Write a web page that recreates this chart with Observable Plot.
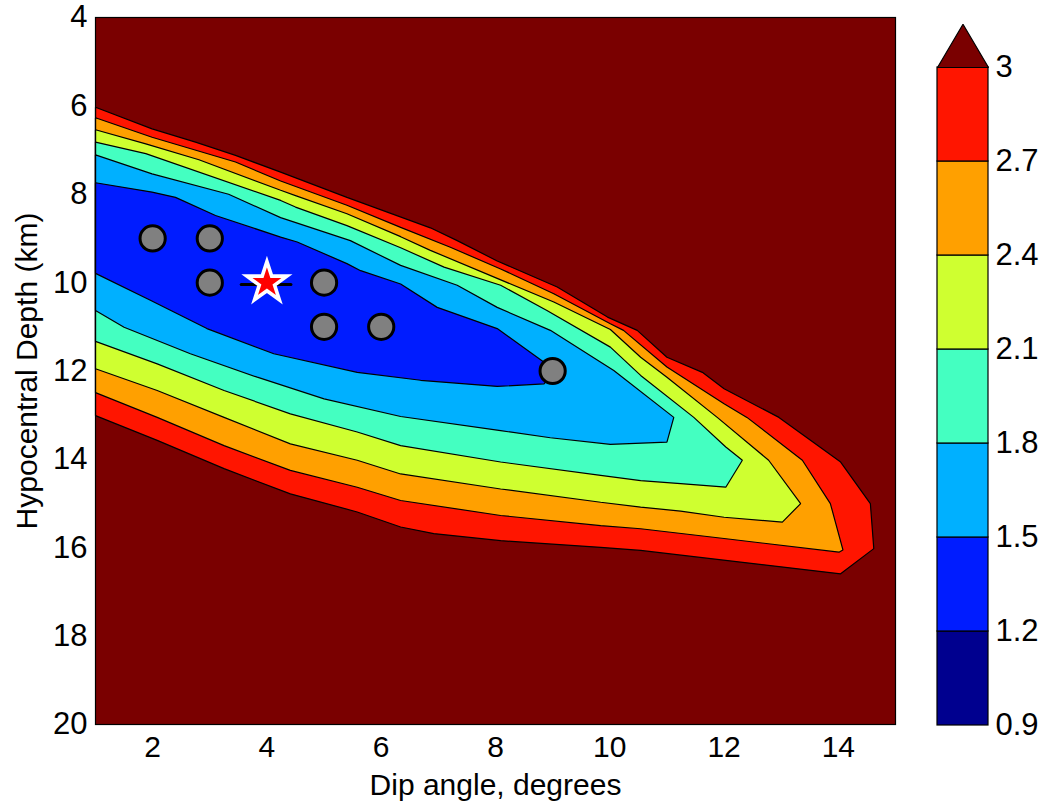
<!DOCTYPE html>
<html>
<head>
<meta charset="utf-8">
<script src="https://cdn.jsdelivr.net/npm/d3@7"></script>
<script src="https://cdn.jsdelivr.net/npm/@observablehq/plot@0.6"></script>
<style>
  html, body { margin: 0; padding: 0; background: #fff; }
  #wrap { position: relative; width: 1044px; height: 805px; background: #fff; }
  #main { position: absolute; left: 0; top: 0; }
  #bar { position: absolute; left: 910px; top: 0; }
</style>
</head>
<body>
<div id="wrap"><div id="main"></div><div id="bar"></div></div>
<script>
// ---- axis ticks ----
const dipTicks = [2, 4, 6, 8, 10, 12, 14];
const depthTicks = [4, 6, 8, 10, 12, 14, 16, 18, 20];
const levels = [0.9, 1.2, 1.5, 1.8, 2.1, 2.4, 2.7, 3.0];
const bandColors = ["#00008f", "#001cff", "#00b0ff", "#44ffc1", "#cfff30", "#ffa000", "#ff1500"];
const overflowColor = "#7a0000";

// ---- contour regions [dip, depth] (value below the level) ----
const below30 = [[1,6.03],[1.99,6.52],[2.75,6.82],[3.45,7.12],[4.24,7.50],[5.40,8.07],[6.86,8.76],[7.33,9.05],[8.03,9.51],[9.08,10.10],[9.96,10.78],[10.48,11.08],[11.0,11.69],[11.62,12.03],[12.0,12.40],[12.96,13.05],[14.04,14.06],[14.56,15.00],[14.62,16.02],
  [14.04,16.59],[10.54,16.06],[9.84,15.99],[8.09,15.84],[6.92,15.68],[6.34,15.53],[5.58,15.19],[4.41,14.78],[3.25,14.21],[2.08,13.57],[1,13.01]];
const below27 = [[1,6.27],[1.99,6.71],[3.45,7.27],[4.24,7.70],[5.40,8.25],[6.34,8.75],[7.21,9.20],[8.09,9.69],[9.02,10.25],[10.01,10.93],[10.24,11.08],[11.0,11.91],[12.0,12.74],[12.40,13.05],[13.37,14.02],[13.86,15.00],[14.08,16.05],
  [14.01,16.10],[12.0,15.79],[10.54,15.57],[9.84,15.50],[8.09,15.27],[6.34,14.93],[5.58,14.63],[4.41,14.25],[3.25,13.69],[2.08,13.05],[1,12.49]];
const below24 = [[1,6.54],[1.88,6.86],[2.81,7.22],[4.24,7.91],[4.50,8.03],[5.40,8.44],[6.34,8.96],[6.86,9.27],[9.02,10.44],[10.01,11.06],[10.54,11.69],[11.0,12.14],[11.88,13.05],[12.78,14.02],[13.34,15.00],
  [13.02,15.42],[12.0,15.31],[11.24,15.17],[10.54,15.08],[9.84,14.97],[8.09,14.67],[6.34,14.33],[5.58,14.02],[4.41,13.65],[3.25,13.05],[2.08,12.44],[1,11.95]];
const below21 = [[1,6.82],[1.88,7.08],[4.24,8.14],[4.50,8.29],[5.40,8.71],[6.34,9.21],[7.10,9.65],[8.09,10.06],[8.90,10.63],[10.01,11.46],[10.54,12.10],[11.47,13.05],[12.03,13.72],[12.32,14.02],
  [12.03,14.63],[11.24,14.55],[10.54,14.48],[9.84,14.36],[8.09,14.06],[6.34,13.69],[5.58,13.38],[4.41,12.97],[3.25,12.44],[2.08,11.84],[1,11.33]];
const below18 = [[1,7.11],[1.99,7.54],[3.33,8.0],[4.24,8.53],[5.46,9.05],[6.34,9.61],[7.33,10.06],[8.03,10.56],[8.96,11.08],[10.07,11.99],[11.12,13.05],
  [11.0,13.61],[10.01,13.66],[8.96,13.51],[8.09,13.35],[6.34,13.03],[5.0,12.63],[3.83,12.14],[2.66,11.61],[1.5,11.01],[1,10.63]];
const below15 = [[1,7.74],[1.99,7.95],[2.40,8.07],[3.10,8.48],[4.24,8.97],[4.53,9.08],[5.40,9.57],[5.64,9.73],[6.34,10.03],[6.98,10.56],[8.03,11.04],[8.85,11.80],[9.0,12.05],
  [8.85,12.29],[8.03,12.35],[6.69,12.21],[5.58,12.03],[4.12,11.61],[2.95,11.04],[1.96,10.40],[1,9.79]];

// ---- events ----
const eventDip = [2, 3, 3, 5, 5, 6, 9];
const eventDepth = [9, 9, 10, 10, 11, 11, 12];
const bestDip = [4];
const bestDepth = [10];
const bestSpread = [[3.55, 10.04], [4.42, 10.04]];

const font = "'Liberation Sans', Arial, Helvetica, sans-serif";

const regions = [
  {pts: below30, color: bandColors[6]},
  {pts: below27, color: bandColors[5]},
  {pts: below24, color: bandColors[4]},
  {pts: below21, color: bandColors[3]},
  {pts: below18, color: bandColors[2]},
  {pts: below15, color: bandColors[1]}
];

const events = eventDip.map((d, i) => ({dip: d, depth: eventDepth[i]}));
const best = bestDip.map((d, i) => ({dip: d, depth: bestDepth[i]}));

const main = Plot.plot({
  width: 910,
  height: 805,
  marginLeft: 95,
  marginRight: 15,
  marginTop: 17,
  marginBottom: 81,
  style: {fontFamily: font, background: "white", color: "black"},
  x: {domain: [1, 15]},
  y: {domain: [4, 20], reverse: true},
  marks: [
    Plot.frame({fill: overflowColor}),
    ...regions.map(r => Plot.line([...r.pts, r.pts[0]], {
      x: d => d[0], y: d => d[1], fill: r.color, stroke: "black",
      strokeWidth: 1.2, strokeLinejoin: "miter", strokeLinecap: "butt", curve: "linear"
    })),
    Plot.line(bestSpread, {x: d => d[0], y: d => d[1], stroke: "black", strokeWidth: 3}),
    Plot.dot(events, {x: "dip", y: "depth", r: 12.6, fill: "#808080", stroke: "black", strokeWidth: 3}),
    Plot.dot(best, {x: "dip", y: "depth", symbol: "star", r: 12.6, fill: "#ff0000", stroke: "white", strokeWidth: 3.6, strokeLinejoin: "miter", strokeMiterlimit: 10}),
    Plot.frame({stroke: "black", strokeWidth: 1.2}),
    Plot.axisX(dipTicks, {tickSize: 0, tickPadding: 11, fontSize: 30, label: null}),
    Plot.axisY(depthTicks, {tickSize: 0, tickPadding: 8, fontSize: 31, label: null}),
    Plot.text(["Dip angle, degrees"], {frameAnchor: "bottom", dy: 61, fontSize: 30, textAnchor: "middle", lineAnchor: "middle"}),
    Plot.text(["Hypocentral Depth (km)"], {frameAnchor: "left", dx: -68, rotate: -90, fontSize: 30, textAnchor: "middle", lineAnchor: "middle"})
  ]
});
document.getElementById("main").appendChild(main);

// ---- colour bar ----
const bands = bandColors.map((c, i) => ({lo: levels[i], hi: levels[i + 1], color: c}));
const overflowTip = [[0, 3.0], [0.5, 3.138], [1, 3.0]];

const bar = Plot.plot({
  width: 134,
  height: 805,
  marginLeft: 27,
  marginRight: 56,
  marginTop: 67,
  marginBottom: 80,
  style: {fontFamily: font, background: "white", color: "black"},
  x: {domain: [0, 1]},
  y: {domain: [0.9, 3.0]},
  marks: [
    Plot.rect(bands, {x1: 0, x2: 1, y1: "lo", y2: "hi", fill: "color", stroke: "black", strokeWidth: 1.2}),
    Plot.line([...overflowTip, overflowTip[0]], {x: d => d[0], y: d => d[1], fill: overflowColor, stroke: "black", strokeWidth: 1.2, strokeLinejoin: "miter"}),
    Plot.axisY(levels, {anchor: "right", tickSize: 0, tickPadding: 7, fontSize: 31, label: null, tickFormat: d => String(+d.toFixed(1))}),
    Plot.axisX([], {label: null})
  ]
});
document.getElementById("bar").appendChild(bar);
</script>
</body>
</html>
